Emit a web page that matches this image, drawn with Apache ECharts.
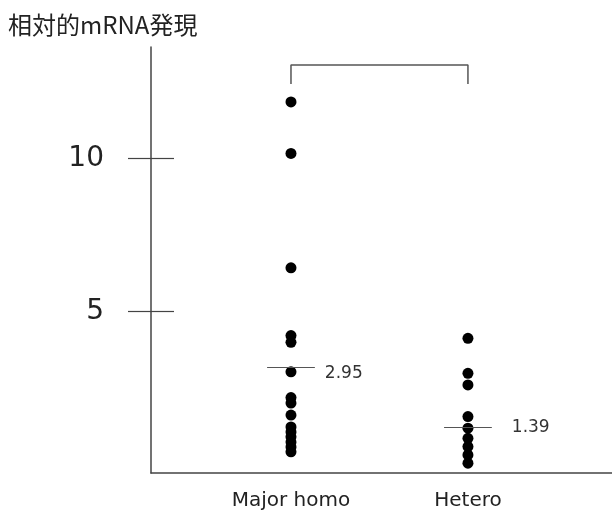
<!DOCTYPE html>
<html><head><meta charset="utf-8">
<script src="https://cdn.jsdelivr.net/npm/echarts@6/dist/echarts.min.js"></script>
<style>html,body{margin:0;padding:0;background:#fff}#c{width:612px;height:514px}</style>
</head><body><div id="c"></div>
<script>
const categories = ['Major homo', 'Hetero'];
const majorHomo = [11.84, 10.16, 6.43, 4.22, 4.00, 3.04, 2.20, 2.02, 1.63, 1.24, 1.08, 0.92, 0.75, 0.59, 0.43];
const hetero = [4.13, 2.99, 2.61, 1.58, 1.20, 0.87, 0.60, 0.33, 0.06];
const meanPos = [3.19, 1.22];
const meanLabels = ['2.95', '1.39'];
const yTicks = [5, 10];
const bracketTop = 13.04;
const bracketBottom = 12.42;
const axisTitle = '相対的mRNA発現';

const yMin = -0.26, yMax = 13.63;
const xMin = 0.209, xMax = 2.814;
const halfW = 0.135;
const font = '"DejaVu Sans", Verdana, sans-serif';
const labelDist = [10, 20];
const labelShift = [6, 0];

const chart = echarts.init(document.getElementById('c'), null, {renderer: 'canvas'});
const groups = [majorHomo, hetero];
const series = groups.map((g, i) => ({
  type: 'scatter',
  data: g.map(v => [i + 1, v]),
  symbolSize: 11,
  itemStyle: {color: '#000', opacity: 1},
  silent: true,
  markLine: {
    silent: true,
    symbol: 'none',
    lineStyle: {color: '#555', width: 1.2, type: 'solid'},
    label: {show: true, position: 'end', formatter: meanLabels[i], color: '#333', fontSize: 17, fontFamily: font, distance: labelDist[i], offset: [0, labelShift[i]]},
    data: [[{coord: [i + 1 - halfW, meanPos[i]]}, {coord: [i + 1 + halfW, meanPos[i]]}]]
  }
}));
series.push({
  type: 'line',
  data: [[1, bracketBottom], [1, bracketTop], [2, bracketTop], [2, bracketBottom]],
  showSymbol: false,
  symbol: 'none',
  lineStyle: {color: '#555', width: 1.5},
  silent: true
});

chart.setOption({
  animation: false,
  backgroundColor: '#fff',
  title: {text: axisTitle, left: 3, top: 8, textStyle: {fontSize: 24, fontWeight: 'normal', color: '#222', fontFamily: '"Noto Sans CJK JP", sans-serif'}},
  grid: {left: 151, right: 0, top: 47, bottom: 41, containLabel: false},
  xAxis: {
    type: 'value', min: xMin, max: xMax,
    axisLine: {show: true, onZero: false, lineStyle: {color: '#444', width: 1.5}},
    axisTick: {show: false},
    splitLine: {show: false},
    axisLabel: {customValues: [1, 2], formatter: v => categories[Math.round(v) - 1], color: '#222', fontSize: 20, fontFamily: font, margin: 18}
  },
  yAxis: [{
    type: 'value', min: yMin, max: yMax,
    axisLine: {show: true, lineStyle: {color: '#444', width: 1.5}},
    axisTick: {show: true, customValues: yTicks, length: 23, lineStyle: {color: '#444', width: 1.2}},
    splitLine: {show: false},
    axisLabel: {customValues: yTicks, color: '#222', fontSize: 28, fontFamily: font, margin: 47}
  }, {
    type: 'value', min: yMin, max: yMax, position: 'left', offset: 0,
    axisLine: {show: false},
    axisTick: {show: true, inside: true, customValues: yTicks, length: 23, lineStyle: {color: '#444', width: 1.2}},
    splitLine: {show: false},
    axisLabel: {show: false}
  }],
  series: series
});
</script></body></html>
